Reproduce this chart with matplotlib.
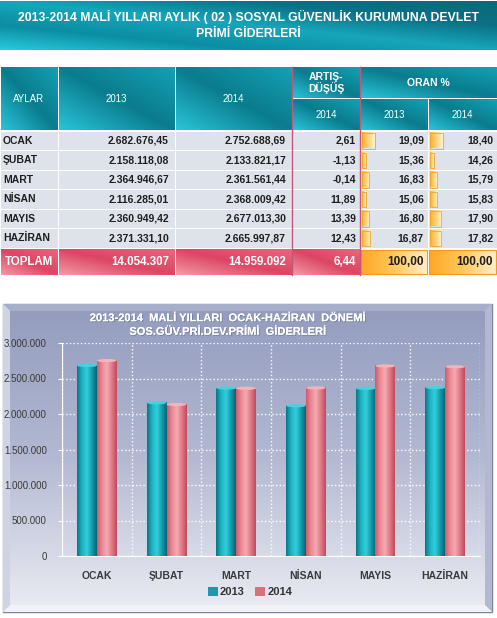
#!/usr/bin/env python3

import numpy as np
import matplotlib
matplotlib.use('Agg')
import matplotlib.pyplot as plt
from matplotlib.colors import LinearSegmentedColormap
from matplotlib.patches import Rectangle, Ellipse, Polygon
from matplotlib import patheffects

plt.rcParams['font.family'] = ['Liberation Sans', 'DejaVu Sans']

W, H = 497, 618

MONTHS = ['OCAK', 'ŞUBAT', 'MART', 'NİSAN', 'MAYIS', 'HAZİRAN']
V2013 = [2682676.45, 2158118.08, 2364946.67, 2116285.01, 2360949.42, 2371331.10]
V2014 = [2752688.69, 2133821.17, 2361561.44, 2368009.42, 2677013.30, 2665997.87]
CHANGE = [2.61, -1.13, -0.14, 11.89, 13.39, 12.43]
SHARE2013 = [19.09, 15.36, 16.83, 15.06, 16.80, 16.87]
SHARE2014 = [18.40, 14.26, 15.79, 15.83, 17.90, 17.82]
YEARS = ['2013', '2014']

TITLE = '2013-2014 MALİ YILLARI AYLIK ( 02 ) SOSYAL GÜVENLİK KURUMUNA DEVLET\nPRİMİ GİDERLERİ'
CHART_TITLE = '2013-2014  MALİ YILLARI  OCAK-HAZİRAN  DÖNEMİ\nSOS.GÜV.PRİ.DEV.PRİMİ  GİDERLERİ'

TEAL = ['#0c7683', '#1cb3c4', '#35cddb', '#139cad', '#0a6470']
PINK = ['#cf5a6b', '#ea8a96', '#f4aab1', '#e07986', '#c04a5e']


def tr(v, d=2):
    s = f'{v:,.{d}f}'
    return s.replace(',', '_').replace('.', ',').replace('_', '.')


def grad(ax, x0, y0, x1, y1, colors, mode='diag', z=1):
    n = 80
    u = np.linspace(0, 1, n)
    X, Y = np.meshgrid(u, u)
    if mode == 'diag':
        t = (X + (1 - Y)) / 2
    elif mode == 'v':
        t = Y
    else:
        t = X
    cmap = LinearSegmentedColormap.from_list('g', colors)
    ax.imshow(t, extent=(x0, x1, y1, y0), cmap=cmap, vmin=0, vmax=1,
              aspect='auto', interpolation='bilinear', zorder=z)


fig = plt.figure(figsize=(W / 100, H / 100), dpi=100)
bg = fig.add_axes([0, 0, 1, 1])
bg.set_axis_off()

# banner
grad(bg, 0, 1, W, 50, ['#2ac8de', '#0b8ea2', '#17a6bb', '#0a7185', '#0c6a79'])
bg.text(W / 2, 25, TITLE, ha='center', va='center', color='white', fontsize=8.8,
        fontweight='bold', linespacing=1.35, zorder=5)

# table
cols = [0, 58, 175, 292, 360, 428, 497]
head_top, head_mid, head_bot = 67, 99, 131
row_h = 19.5
hdr_cols = ['#2ac4d8', '#0a7c8e', '#15a0b4']

def hcell(x0, y0, x1, y1):
    grad(bg, x0 + 0.5, y0 + 0.5, x1 - 0.5, y1 - 0.5, hdr_cols, z=2)

hcell(cols[0], head_top, cols[1], head_bot)
hcell(cols[1], head_top, cols[2], head_bot)
hcell(cols[2], head_top, cols[3], head_bot)
hcell(cols[3], head_top, cols[4], head_mid)
hcell(cols[3], head_mid, cols[4], head_bot)
hcell(cols[4], head_top, cols[6], head_mid)
hcell(cols[4], head_mid, cols[5], head_bot)
hcell(cols[5], head_mid, cols[6], head_bot)

hk = dict(ha='center', va='center', color='white', fontsize=7, zorder=5)
bg.text((cols[0] + cols[1]) / 2, 99, 'AYLAR', **hk)
bg.text((cols[1] + cols[2]) / 2, 99, YEARS[0], **hk)
bg.text((cols[2] + cols[3]) / 2, 99, YEARS[1], **hk)
bg.text((cols[3] + cols[4]) / 2, 115, YEARS[1], **hk)
bg.text((cols[4] + cols[5]) / 2, 115, YEARS[0], **hk)
bg.text((cols[5] + cols[6]) / 2, 115, YEARS[1], **hk)
bg.text((cols[3] + cols[4]) / 2, 83, 'ARTIŞ-\nDÜŞÜŞ', ha='center', va='center',
        color='white', fontsize=7.5, fontweight='bold', linespacing=1.1, zorder=5)
bg.text((cols[4] + cols[6]) / 2, 83, 'ORAN %', ha='center', va='center',
        color='white', fontsize=7.5, fontweight='bold', zorder=5)

body = dict(va='center', color='#1e1e1e', fontsize=7.5, fontweight='bold', zorder=5)
for i, m in enumerate(MONTHS):
    y0 = head_bot + i * row_h
    y1 = y0 + row_h
    yc = (y0 + y1) / 2
    for c in range(6):
        bg.add_patch(Rectangle((cols[c] + 0.5, y0 + 0.5), cols[c + 1] - cols[c] - 1,
                               row_h - 1, fc='#dee2eb', ec='none', zorder=2))
    # data bars in share columns
    for c, vals in ((4, SHARE2013), (5, SHARE2014)):
        lo, hi = min(vals), max(vals)
        w = 4 + (vals[i] - lo) / (hi - lo) * 9
        grad(bg, cols[c] + 1.5, y0 + 2, cols[c] + 1.5 + w, y1 - 2,
             ['#ffad2e', '#ffd57a', '#fff3d8'], mode='h', z=3)
        bg.add_patch(Rectangle((cols[c] + 1.5, y0 + 2), w, row_h - 4, fc='none',
                               ec='#f5a623', lw=0.6, zorder=4))
    bg.text(3, yc, m, ha='left', **body)
    bg.text(cols[2] - 6, yc, tr(V2013[i]), ha='right', **body)
    bg.text(cols[3] - 6, yc, tr(V2014[i]), ha='right', **body)
    bg.text(cols[4] - 4, yc, tr(CHANGE[i]), ha='right', **body)
    bg.text(cols[5] - 4, yc, tr(SHARE2013[i]), ha='right', **body)
    bg.text(cols[6] - 4, yc, tr(SHARE2014[i]), ha='right', **body)

# total row
t0 = head_bot + 6 * row_h + 0.5
t1 = 275
tc = (t0 + t1) / 2
tot13, tot14 = sum(V2013), sum(V2014)
pinkrow = ['#f29aa8', '#dc4663', '#e7677e']
for c in range(4):
    grad(bg, cols[c] + 0.5, t0 + 0.5, cols[c + 1] - 0.5, t1, pinkrow, z=2)
for c in (4, 5):
    grad(bg, cols[c] + 1, t0 + 1.5, cols[c + 1] - 1, t1 - 1,
         ['#ffa726', '#ffc85a', '#ffeec8'], mode='h', z=2)
    bg.add_patch(Rectangle((cols[c] + 1, t0 + 1.5), cols[c + 1] - cols[c] - 2,
                           t1 - t0 - 2.5, fc='none', ec='#f39a1c', lw=0.8, zorder=3))
tk = dict(va='center', color='white', fontsize=8.3, fontweight='bold', zorder=5)
bg.text(5, tc, 'TOPLAM', ha='left', **tk)
bg.text(cols[2] - 6, tc, tr(tot13, 0), ha='right', **tk)
bg.text(cols[3] - 6, tc, tr(tot14, 0), ha='right', **tk)
bg.text(cols[4] - 4, tc, tr((tot14 / tot13 - 1) * 100), ha='right', **tk)
bg.text(cols[5] - 4, tc, tr(100), ha='right', va='center', color='#1e1e1e',
        fontsize=8.5, fontweight='bold', zorder=5)
bg.text(cols[6] - 4, tc, tr(100), ha='right', va='center', color='#1e1e1e',
        fontsize=8.5, fontweight='bold', zorder=5)

# red borders around change column
for xx in (cols[3], cols[4]):
    bg.plot([xx, xx], [head_top, t1], color='#c4587a', lw=1, zorder=6)

# chart frame
fx0, fy0, fx1, fy1 = 3, 304, 492, 612
bv = 7
bg.add_patch(Rectangle((fx0, fy0), fx1 - fx0, fy1 - fy0, fc='#c9cde0', ec='#7c83a2',
                       lw=1, zorder=1))
bg.add_patch(Polygon([(fx0, fy0), (fx1, fy0), (fx1 - bv, fy0 + bv), (fx0 + bv, fy0 + bv)],
                     fc='#a7aecb', ec='none', zorder=1.2))
bg.add_patch(Polygon([(fx0, fy0), (fx0 + bv, fy0 + bv), (fx0 + bv, fy1 - bv), (fx0, fy1)],
                     fc='#cfd3e3', ec='none', zorder=1.2))
bg.add_patch(Polygon([(fx1, fy0), (fx1, fy1), (fx1 - bv, fy1 - bv), (fx1 - bv, fy0 + bv)],
                     fc='#b3b8d0', ec='none', zorder=1.2))
bg.add_patch(Polygon([(fx0, fy1), (fx1, fy1), (fx1 - bv, fy1 - bv), (fx0 + bv, fy1 - bv)],
                     fc='#f1f2f6', ec='none', zorder=1.2))
grad(bg, fx0 + bv, fy0 + bv, fx1 - bv, fy1 - bv, ['#959dbf', '#b3b9d2', '#e8eaf1'],
     mode='v', z=1.5)

bg.text(228, 325, CHART_TITLE, ha='center', va='center', color='white', fontsize=8,
        fontweight='bold', linespacing=1.45, zorder=5,
        path_effects=[patheffects.withSimplePatchShadow(offset=(0.6, -0.6),
                                                         shadow_rgbFace='#55607a', alpha=0.6),
                      patheffects.Normal()])

bg.set_xlim(0, W)
bg.set_ylim(H, 0)

# bar chart
ax = fig.add_axes([62 / W, 1 - 556 / H, 418 / W, 213 / H])
ax.set_facecolor('none')
x = np.arange(len(MONTHS))
bw = 0.285
bars13 = ax.bar(x - bw / 2, V2013, bw, color=TEAL[2], zorder=3, label=YEARS[0])
bars14 = ax.bar(x + bw / 2, V2014, bw, color=PINK[2], zorder=3, label=YEARS[1])
cap_h = 45000
for bars, cols_, top in ((bars13, TEAL, '#43d2de'), (bars14, PINK, '#f2b3ba')):
    for b in bars:
        bx, bwid, bh = b.get_x(), b.get_width(), b.get_height()
        grad(ax, bx, bh, bx + bwid, 0, cols_, mode='h', z=3.2)
        ax.add_patch(Ellipse((bx + bwid / 2, bh), bwid, cap_h, fc=top, ec='none', zorder=3.4))
        b.set_visible(False)

ax.set_xlim(-0.5, len(MONTHS) - 0.5)
ax.set_ylim(0, 3000000)
ax.yaxis.set_major_locator(matplotlib.ticker.MultipleLocator(500000))
ax.yaxis.set_major_formatter(matplotlib.ticker.FuncFormatter(lambda v, p: tr(v, 0)))
ax.set_xticks(x)
ax.set_xticklabels(MONTHS, fontweight='bold', fontsize=7.5, color='#3a3a3a')
ax.set_xticks(np.arange(-0.5, len(MONTHS), 1), minor=True)
ax.tick_params(axis='x', which='both', length=0, pad=11)
ax.tick_params(axis='y', length=3, color='white', labelsize=7, labelcolor='#3a3a3a', pad=8)
ax.grid(axis='y', which='major', color='white', linestyle=':', lw=1, zorder=1)
ax.grid(axis='x', which='minor', color='white', linestyle=':', lw=1, zorder=1)
for s in ('top', 'right'):
    ax.spines[s].set_visible(False)
for s in ('left', 'bottom'):
    ax.spines[s].set_color('white')

handles = [Rectangle((0, 0), 1, 1, fc='#179cad', ec='none'),
           Rectangle((0, 0), 1, 1, fc='#d9707e', ec='none')]
fig.legend(handles, YEARS, loc='center', bbox_to_anchor=(250 / W, 1 - 592 / H), ncol=2,
           frameon=False, handlelength=0.9, handleheight=0.9, handletextpad=0.15,
           columnspacing=1.0, prop={'size': 8, 'weight': 'bold'}, labelcolor='#333333')

fig.savefig('out.png', dpi=100)
